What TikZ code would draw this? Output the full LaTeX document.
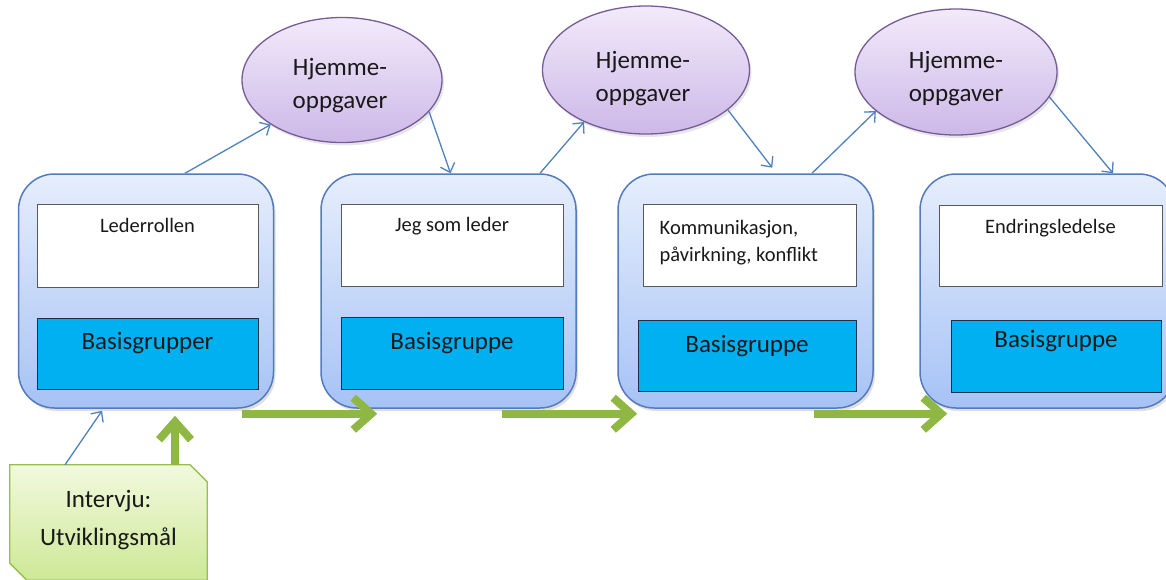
\documentclass[tikz,border=0pt]{standalone}
\usepackage{fontspec}
\setmainfont{Carlito}
\usetikzlibrary{arrows.meta,shapes.geometric,shadows}
\definecolor{boxtop}{RGB}{230,238,252}
\definecolor{boxbot}{RGB}{166,194,245}
\definecolor{boxdraw}{RGB}{84,123,189}
\definecolor{gbfill}{RGB}{0,176,240}
\definecolor{gbdraw}{RGB}{28,48,72}
\definecolor{elltop}{RGB}{242,234,250}
\definecolor{ellbot}{RGB}{205,184,232}
\definecolor{elldraw}{RGB}{118,92,150}
\definecolor{ivtop}{RGB}{242,249,222}
\definecolor{ivbot}{RGB}{205,232,150}
\definecolor{ivdraw}{RGB}{150,190,80}
\definecolor{greenarrow}{RGB}{143,183,68}
\definecolor{bluearrow}{RGB}{79,129,189}
\definecolor{txt}{RGB}{25,25,25}
\tikzset{
  bigbox/.style={draw=boxdraw, line width=1.5pt, rounded corners=36pt, top color=boxtop, bottom color=boxbot, minimum width=255pt, minimum height=234pt, inner sep=0pt,
    drop shadow={shadow xshift=2pt, shadow yshift=-3pt, opacity=0.25}},
  whitebox/.style={draw=black!65, line width=1pt, fill=white, inner sep=0pt},
  bluebox/.style={draw=gbdraw, line width=1pt, fill=gbfill, inner sep=0pt},
  homework/.style={ellipse, draw=elldraw, line width=1.3pt, top color=elltop, bottom color=ellbot, inner sep=0pt,
    drop shadow={shadow xshift=2pt, shadow yshift=-3pt, opacity=0.2}},
  ivframe/.style={draw=ivdraw, line width=1.3pt, top color=ivtop, bottom color=ivbot},
  smalltext/.style={inner sep=0pt, text=txt, font=\fontsize{20.5}{27}\selectfont},
  bigtext/.style={inner sep=0pt, text=txt, font=\fontsize{25}{33}\selectfont},
  thinarrow/.style={draw=bluearrow, line width=1.3pt, -{Straight Barb[length=8pt,width=15pt]}},
  fatarrow/.style={draw=greenarrow, line width=8pt, -{Straight Barb[length=18pt,width=32pt]}},
}
\begin{document}
\begin{tikzpicture}[x=1pt,y=-1pt]
\useasboundingbox (0,0) rectangle (1166,579);
\clip (0,0) rectangle (1166,579);

% big boxes
\node[bigbox] (b1) at (146,291) {};
\node[bigbox] (b2) at (448.5,291) {};
\node[bigbox] (b3) at (745.5,291) {};
\node[bigbox] (b4) at (1047.5,291) {};

% white boxes
\node[whitebox, minimum width=221pt, minimum height=83pt] (w1) at (147.5,245.5) {};
\node[whitebox, minimum width=222pt, minimum height=82pt] (w2) at (452,245) {};
\node[whitebox, minimum width=213pt, minimum height=82pt] (w3) at (749.5,245) {};
\node[whitebox, minimum width=223pt, minimum height=81pt] (w4) at (1050.5,245.5) {};

\node[smalltext, anchor=base] (tw1) at ([yshift=-29pt]w1.north) {Lederrollen};
\node[smalltext, anchor=base] (tw2) at ([yshift=-28pt]w2.north) {Jeg som leder};
\node[smalltext, anchor=north west, align=left] (tw3) at ([xshift=17pt,yshift=-16.5pt]w3.north west) {Kommunikasjon,\\påvirkning, konflikt};
\node[smalltext, anchor=base] (tw4) at ([yshift=-29pt]w4.north) {Endringsledelse};

% blue boxes
\node[bluebox, minimum width=221pt, minimum height=71pt] (g1) at (147.5,353.5) {};
\node[bluebox, minimum width=222pt, minimum height=72pt] (g2) at (452,353) {};
\node[bluebox, minimum width=218pt, minimum height=71pt] (g3) at (747,355.5) {};
\node[bluebox, minimum width=210pt, minimum height=72pt] (g4) at (1056,356) {};

\node[bigtext, anchor=base] (tg1) at ([yshift=-32pt]g1.north) {Basisgrupper};
\node[bigtext, anchor=base] (tg2) at ([yshift=-33pt]g2.north) {Basisgruppe};
\node[bigtext, anchor=base] (tg3) at ([yshift=-33pt]g3.north) {Basisgruppe};
\node[bigtext, anchor=base] (tg4) at ([yshift=-28pt]g4.north) {Basisgruppe};

% homework ellipses
\node[homework, minimum width=200pt, minimum height=125pt] (e1) at (342,80) {};
\node[homework, minimum width=207pt, minimum height=128pt] (e2) at (646,70) {};
\node[homework, minimum width=202pt, minimum height=126pt] (e3) at (956,72) {};
\node[bigtext, align=center] (te1) at (340,85.5) {Hjemme-\\oppgaver};
\node[bigtext, align=center] (te2) at (643,78.5) {Hjemme-\\oppgaver};
\node[bigtext, align=center] (te3) at (956,78.5) {Hjemme-\\oppgaver};

% interview (snipped corners top right and bottom left)
\node[minimum width=197pt, minimum height=115pt, inner sep=0pt] (iv) at (108.5,522.5) {};
\draw[ivframe] (iv.north west) -- ([xshift=-17pt]iv.north east) -- ([yshift=-17pt]iv.north east)
  -- (iv.south east) -- ([xshift=17pt]iv.south west) -- ([yshift=17pt]iv.south west) -- cycle;
\node[bigtext, align=center, font=\fontsize{25}{38}\selectfont] (tiv) at (108.5,520) {Intervju:\\Utviklingsmål};

% thin blue arrows
\draw[thinarrow] ([xshift=39pt]b1.north) -- (e1.212);
\draw[thinarrow] (e1.-20) -- ([xshift=2pt]b2.north);
\draw[thinarrow] ([xshift=91.5pt]b2.north) -- (e2.220);
\draw[thinarrow, shorten >=7pt] (e2.-26) -- ([xshift=31pt]b3.north);
\draw[thinarrow] ([xshift=66.5pt]b3.north) -- (e3.206);
\draw[thinarrow] (e3.-15) -- ([xshift=65.5pt]b4.north);
\draw[thinarrow] ([xshift=-43.5pt]iv.north) -- ([xshift=-44pt,yshift=-2pt]b1.south);

% green arrows
\draw[fatarrow] ([xshift=-32pt,yshift=-5pt]b1.south east) -- ([xshift=57pt,yshift=-5pt]b2.south west);
\draw[fatarrow] ([xshift=-75pt,yshift=-5pt]b2.south east) -- ([xshift=20pt,yshift=-5pt]b3.south west);
\draw[fatarrow] ([xshift=-60pt,yshift=-5pt]b3.south east) -- ([xshift=28pt,yshift=-5pt]b4.south west);
\draw[fatarrow] ([xshift=66.5pt]iv.north) -- ([xshift=29pt,yshift=-7pt]b1.south);
\end{tikzpicture}
\end{document}
